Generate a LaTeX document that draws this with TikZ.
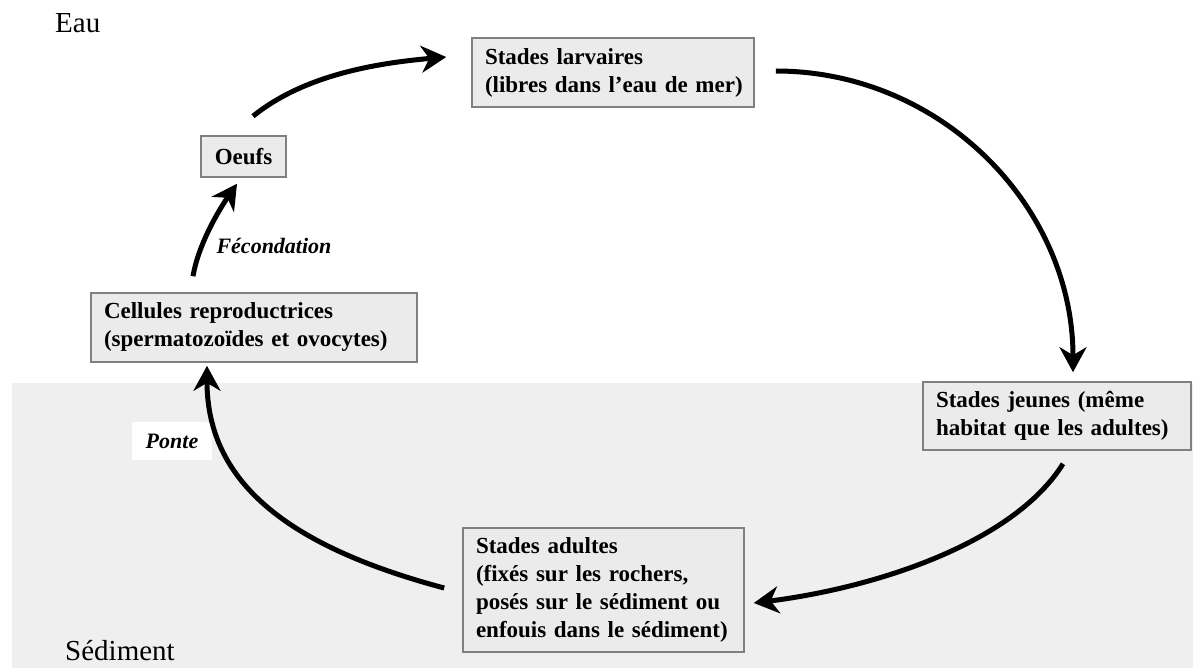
\documentclass[tikz,border=0pt]{standalone}
\usepackage{fontspec}
\setmainfont{Liberation Serif}
\usetikzlibrary{arrows.meta,calc}
\definecolor{sedgray}{RGB}{239,239,239}
\definecolor{boxfill}{RGB}{235,235,235}
\definecolor{boxline}{RGB}{128,128,128}
\begin{document}
\begin{tikzpicture}[x=1pt,y=-1pt,
  stagebox/.style={draw=boxline,fill=boxfill,line width=1.6pt,
    font=\fontsize{23}{28}\selectfont\bfseries,align=left,
    inner xsep=13pt,inner ysep=0pt},
  zone/.style={font=\fontsize{29}{34}\selectfont,anchor=base west,inner sep=0pt},
  steplabel/.style={font=\fontsize{22}{26}\selectfont\bfseries\itshape},
  arr/.style={line width=5pt,-{Stealth[length=25pt,width=27pt,inset=8pt]}}]
\useasboundingbox (0,0) rectangle (1193,668);
\fill[sedgray] (12,383) rectangle (1193,668);
\node[zone] (eau) at (55,33) {Eau};
\node[zone] (sed) at (65,660) {Sédiment};

\node[stagebox,minimum width=282pt,minimum height=69pt,text width=256pt] (larv) at (613,72.5)
  {\mbox{Stades larvaires}\\\mbox{(libres dans l'eau de mer)}};
\node[stagebox,minimum width=85pt,minimum height=41pt,align=center,inner xsep=4pt] (oeufs) at (243.5,156.5) {Oeufs};
\node[stagebox,minimum width=326pt,minimum height=69pt,text width=300pt] (cell) at (254,327.5)
  {\mbox{Cellules reproductrices}\\\mbox{(spermatozoïdes et ovocytes)}};
\node[stagebox,minimum width=268pt,minimum height=68pt,text width=242pt] (jeunes) at (1057,416)
  {\mbox{Stades jeunes (même}\\\mbox{habitat que les adultes)}};
\node[stagebox,minimum width=281pt,minimum height=124pt,text width=255pt] (adultes) at (603.5,590)
  {\mbox{Stades adultes}\\\mbox{(fixés sur les rochers,}\\\mbox{posés sur le sédiment ou}\\\mbox{enfouis dans le sédiment)}};

\node[steplabel] (fec) at (274,246) {Fécondation};
\node[steplabel,fill=white,minimum width=80pt,minimum height=38pt] (ponte) at (172,441) {Ponte};

\draw[arr] ($(oeufs.north)+(9.5,-19)$) .. controls +(47,-38) and +(-80,7) .. ($(larv.west)+(-25,-15.5)$);
\draw[arr] ($(larv.east)+(21,-1.5)$) .. controls +(165,0) and +(0,-166) .. ($(jeunes.north)+(16,-9)$);
\draw[arr] ($(jeunes.south)+(6,13)$) .. controls +(-50,80) and +(120,-15) .. ($(adultes.east)+(9,13)$);
\draw[arr] ($(adultes.west)+(-18,-2)$) .. controls +(-150,-40) and +(0,120) .. ($(cell.south)+(-47,3)$);
\draw[arr] ($(cell.north)+(-61,-16)$) .. controls +(5,-30) and +(-20,29) .. ($(oeufs.south)+(-6.5,6)$);
\end{tikzpicture}
\end{document}
